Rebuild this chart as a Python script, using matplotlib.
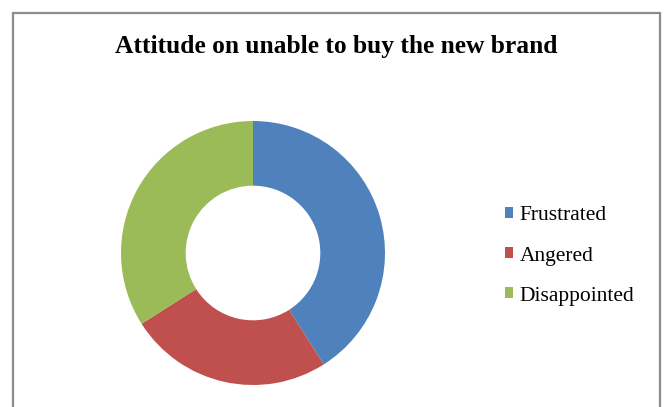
import matplotlib.pyplot as plt
from matplotlib.patches import Rectangle

labels = ['Frustrated', 'Angered', 'Disappointed']
values = [41, 25, 34]
colors = ['#4F81BD', '#C0504D', '#9BBB59']

W, H = 667, 407
fig = plt.figure(figsize=(W / 100, H / 100), dpi=100)
plt.rcParams['font.family'] = ['Liberation Serif', 'DejaVu Serif']

# chart area frame (bottom edge is cut off in the reference)
fig.patches.append(Rectangle((13 / W, -0.05), (660 - 13) / W, 1.05 - 13 / H,
                             transform=fig.transFigure, fill=False,
                             edgecolor='#8c8c8c', linewidth=1.6))

cx, cy, r = 253, 253, 132
ax = fig.add_axes([(cx - r) / W, (H - cy - r) / H, 2 * r / W, 2 * r / H])
wedges, _ = ax.pie(values, colors=colors, startangle=90, counterclock=False,
                   radius=1, wedgeprops=dict(width=0.49, linewidth=0))
ax.set_xlim(-1, 1)
ax.set_ylim(-1, 1)
ax.axis('off')

fig.text(336 / W, 1 - 46 / H, 'Attitude on unable to buy the new brand',
         ha='center', va='center', fontsize=18.4, fontweight='bold')

fig.legend(wedges, labels, loc='center left', bbox_to_anchor=(494 / W, 1 - 256 / H),
           frameon=False, fontsize=15.5, handlelength=0.4, handleheight=0.4,
           handletextpad=0.3, labelspacing=0.98, borderpad=0)

fig.savefig('out.png', dpi=100)
